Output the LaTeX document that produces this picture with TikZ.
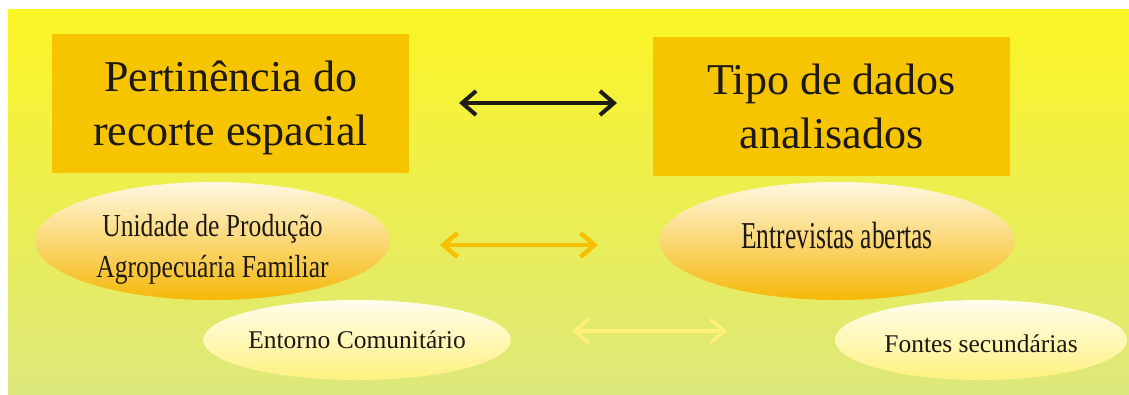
\documentclass[tikz,border=0pt]{standalone}
\usepackage{fontspec}
\setmainfont{Liberation Serif}
\newfontfamily\condA[FakeStretch=0.8]{Liberation Serif}
\newfontfamily\condB[FakeStretch=0.67]{Liberation Serif}
\usetikzlibrary{shapes.geometric,arrows.meta}
\definecolor{bgtop}{RGB}{252,245,38}
\definecolor{bgmid}{RGB}{230,237,92}
\definecolor{bgbot}{RGB}{220,232,124}
\definecolor{boxfill}{RGB}{247,196,0}
\definecolor{orlight}{RGB}{255,247,224}
\definecolor{ormid}{RGB}{250,214,122}
\definecolor{ordark}{RGB}{246,184,10}
\definecolor{yllight}{RGB}{255,253,238}
\definecolor{ylmid}{RGB}{255,248,186}
\definecolor{yldark}{RGB}{255,241,128}
\definecolor{txt}{RGB}{30,24,18}
\definecolor{arrblack}{RGB}{30,28,20}
\definecolor{arrorange}{RGB}{246,192,0}
\definecolor{arrlight}{RGB}{255,240,122}
\tikzset{
  titlebox/.style={rectangle, fill=boxfill, minimum width=357pt, minimum height=139pt,
    inner sep=0pt, align=center, text=txt, text depth=0pt,
    font=\fontsize{44}{54}\selectfont},
  bigell/.style={ellipse, minimum width=355pt, minimum height=118pt, inner sep=0pt,
    top color=orlight, middle color=ormid, bottom color=ordark, text=txt},
  smallell/.style={ellipse, minimum height=80pt, inner sep=0pt,
    top color=yllight, middle color=ylmid, bottom color=yldark, text=txt,
    font=\fontsize{25.5}{30}\selectfont},
  dblarrow/.style={{Straight Barb[length=14pt,width=24pt]}-{Straight Barb[length=14pt,width=24pt]}}
}
\begin{document}
\begin{tikzpicture}[x=1pt,y=-1pt]
\useasboundingbox (0,0) rectangle (1129,394);
\fill[top color=bgtop, middle color=bgmid, bottom color=bgbot] (8,9) rectangle (1129,394);

\node[titlebox] (p1) at (230.5,103.5) {Pertinência do\\recorte espacial};
\node[titlebox] (p2) at (831.5,106.5) {Tipo de dados\\analisados};

\node[bigell, font=\condA\fontsize{32}{41}\selectfont, text height=72pt, text depth=0pt] (u1) at (212.5,241)
  {\begin{tabular}[b]{@{}c@{}}Unidade de Produção\\Agropecuária Familiar\end{tabular}};
\node[bigell, font=\condB\fontsize{38}{42}\selectfont, text height=14pt, text depth=0pt] (e1) at (837,241) {Entrevistas abertas};

\node[smallell, minimum width=290pt, text height=16pt, text depth=0pt] (c1) at (357,340) {Entorno Comunitário};
\node[smallell, minimum width=292pt, text height=24pt, text depth=0pt] (f1) at (981,340) {Fontes secundárias};

\coordinate (a1s) at (459,103);
\coordinate (a1e) at (617,103);
\coordinate (a2s) at (440,245);
\coordinate (a2e) at (598,245);
\coordinate (a3s) at (572,331);
\coordinate (a3e) at (727,331);
\draw[dblarrow, draw=arrblack, line width=4pt] (a1s) -- (a1e);
\draw[dblarrow, draw=arrorange, line width=4.5pt] (a2s) -- (a2e);
\draw[dblarrow, draw=arrlight, line width=3.5pt] (a3s) -- (a3e);
\end{tikzpicture}
\end{document}
